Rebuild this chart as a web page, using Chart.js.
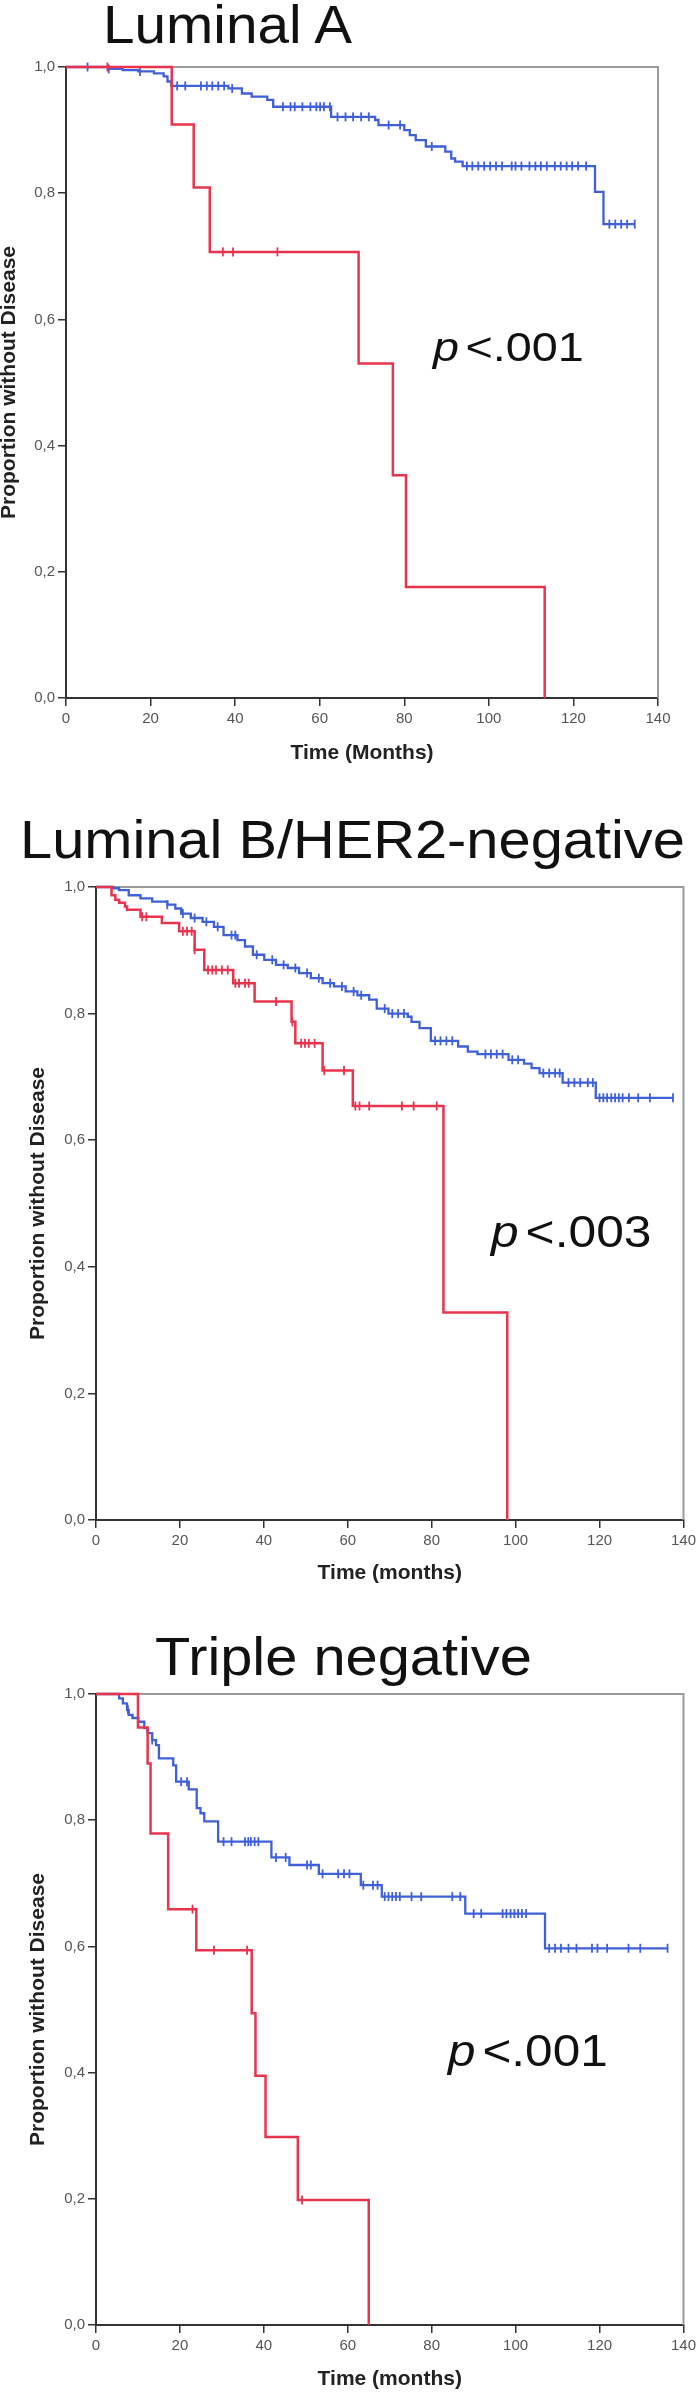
<!DOCTYPE html>
<html>
<head>
<meta charset="utf-8">
<script src="https://cdn.jsdelivr.net/npm/chart.js@4.4.1/dist/chart.umd.min.js"></script>
<style>
html,body{margin:0;padding:0;background:#fff;}
body{width:700px;height:2392px;position:relative;overflow:hidden;font-family:"Liberation Sans",Arial,sans-serif;}
canvas{position:absolute;left:0;}
.title{position:absolute;font-size:54px;line-height:1;white-space:nowrap;color:#111;transform-origin:0 0;z-index:2;}
.pval{position:absolute;line-height:1;white-space:nowrap;color:#111;transform-origin:0 0;z-index:2;}
.pval i{margin-right:0.14em;}
</style>
</head>
<body>
<canvas id="c1" width="700" height="780" style="top:0px"></canvas>
<canvas id="c2" width="700" height="800" style="top:800px"></canvas>
<canvas id="c3" width="700" height="792" style="top:1600px"></canvas>

<div class="title" style="left:103px;top:-3px;transform:scaleX(1.05)">Luminal A</div>
<div class="title" style="left:20px;top:812px;transform:scaleX(1.07)">Luminal B/HER2-negative</div>
<div class="title" style="left:155px;top:1629px;transform:scaleX(1.07)">Triple negative</div>

<div class="pval" style="left:433px;top:327px;font-size:41px;transform:scaleX(1.14)"><i>p</i>&lt;.001</div>
<div class="pval" style="left:491px;top:1210px;font-size:44px;transform:scaleX(1.13)"><i>p</i>&lt;.003</div>
<div class="pval" style="left:448px;top:2028px;font-size:45px;transform:scaleX(1.1)"><i>p</i>&lt;.001</div>

<script>
// ---------- tick labels ----------
const xTickValues = [0, 20, 40, 60, 80, 100, 120, 140];
const xTickLabels = ['0', '20', '40', '60', '80', '100', '120', '140'];
const yTickValues = [0, 0.2, 0.4, 0.6, 0.8, 1.0];
const yTickLabels = ['0,0', '0,2', '0,4', '0,6', '0,8', '1,0'];

// ---------- Luminal A ----------
const lumA_redTime = [0, 25.0, 30.2, 34.0, 69.2, 77.3, 80.4, 113.2];
const lumA_redSurv = [1, 0.909, 0.809, 0.707, 0.530, 0.353, 0.176, 0];
const lumA_redCensor = [9.8, 37.1, 39.5, 50.0];
const lumA_blueTime = [0, 10.1, 13.4, 17.1, 20.8, 23.1, 24.0, 24.9, 38.4, 41.6, 43.9, 47.6, 49.0, 62.7, 73.1, 73.9, 80.0, 81.3, 82.7, 85.1, 89.7, 91.1, 92.0, 93.8, 125.1, 127.1, 134.5];
const lumA_blueSurv = [1, 0.997, 0.995, 0.993, 0.990, 0.985, 0.977, 0.970, 0.966, 0.958, 0.953, 0.948, 0.937, 0.921, 0.916, 0.908, 0.900, 0.892, 0.884, 0.874, 0.866, 0.855, 0.850, 0.843, 0.802, 0.751, 0.751];
const lumA_blueCensor = [5.1, 10.1, 17.5, 26.3, 28.2, 31.9, 33.3, 34.6, 36.0, 37.4, 39.3, 51.3, 53.1, 54.1, 55.9, 57.8, 59.2, 60.1, 61.0, 62.4, 64.2, 66.1, 67.9, 69.8, 71.6, 76.3, 79.0, 86.5, 94.8, 96.1, 97.5, 98.9, 100.3, 101.7, 103.1, 105.4, 106.3, 107.7, 109.6, 111.0, 112.3, 113.7, 115.6, 117.0, 118.4, 119.7, 121.1, 123.0, 128.5, 129.9, 131.3, 132.7, 134.5];

// ---------- Luminal B / HER2-negative ----------
const lumB_redTime = [0, 3.7, 4.6, 5.5, 6.9, 7.4, 10.6, 15.7, 19.8, 23.5, 25.8, 32.7, 37.8, 46.6, 47.5, 54.0, 61.2, 82.8, 98.0];
const lumB_redSurv = [1, 0.987, 0.980, 0.975, 0.969, 0.964, 0.953, 0.943, 0.930, 0.901, 0.869, 0.848, 0.819, 0.787, 0.753, 0.710, 0.654, 0.328, 0];
const lumB_redCensor = [11.0, 12.0, 20.7, 21.7, 22.8, 23.5, 26.7, 27.7, 28.6, 30.0, 31.4, 33.2, 34.1, 35.5, 36.4, 42.9, 46.8, 48.9, 49.8, 50.7, 52.1, 54.4, 59.1, 61.8, 62.8, 65.1, 72.9, 75.7, 81.2];
const lumB_blueTime = [0, 4.1, 5.5, 7.8, 10.6, 13.4, 17.0, 18.9, 20.3, 22.6, 25.4, 28.1, 30.4, 33.7, 35.5, 37.4, 40.1, 42.9, 45.7, 48.4, 51.2, 54.0, 56.7, 59.5, 62.3, 65.1, 66.9, 69.7, 74.3, 75.2, 77.1, 79.8, 86.3, 88.6, 90.9, 98.3, 102.0, 103.8, 105.7, 111.2, 119.1, 137.5];
const lumB_blueSurv = [1, 0.998, 0.995, 0.987, 0.982, 0.977, 0.972, 0.966, 0.958, 0.951, 0.945, 0.937, 0.924, 0.916, 0.906, 0.893, 0.885, 0.877, 0.872, 0.864, 0.856, 0.848, 0.843, 0.835, 0.829, 0.822, 0.808, 0.800, 0.795, 0.787, 0.777, 0.757, 0.748, 0.740, 0.736, 0.727, 0.721, 0.714, 0.706, 0.691, 0.667, 0.667];
const lumB_blueCensor = [17.0, 20.7, 23.5, 26.3, 29.0, 32.3, 33.2, 38.3, 42.0, 44.7, 47.5, 50.3, 53.1, 55.8, 58.6, 61.4, 63.2, 68.8, 70.6, 72.0, 73.4, 80.8, 82.1, 83.5, 84.9, 92.8, 94.1, 95.5, 96.9, 99.2, 100.6, 106.6, 108.0, 109.4, 110.5, 112.6, 114.0, 115.4, 117.2, 118.4, 120.0, 120.9, 121.8, 122.8, 123.7, 124.6, 125.5, 127.0, 129.2, 132.0, 137.5];

// ---------- Triple negative ----------
const tn_redTime = [0, 10.0, 12.3, 13.0, 17.2, 23.9, 37.1, 38.0, 40.4, 48.1, 65.0];
const tn_redSurv = [1, 0.947, 0.890, 0.779, 0.659, 0.594, 0.494, 0.395, 0.298, 0.198, 0];
const tn_redCensor = [23.0, 28.1, 36.0, 49.1];
const tn_blueTime = [0, 5.5, 6.4, 7.4, 7.8, 8.7, 10.1, 11.5, 12.3, 13.4, 14.3, 15.0, 18.4, 19.1, 22.1, 24.0, 24.9, 25.8, 29.1, 41.8, 46.1, 53.1, 63.1, 68.1, 88.0, 107.0, 136.2];
const tn_blueSurv = [1, 0.993, 0.985, 0.975, 0.967, 0.962, 0.956, 0.946, 0.938, 0.927, 0.919, 0.898, 0.887, 0.861, 0.849, 0.819, 0.811, 0.798, 0.766, 0.741, 0.729, 0.715, 0.697, 0.679, 0.652, 0.597, 0.597];
const tn_blueCensor = [7.6, 13.4, 20.3, 21.7, 30.4, 32.3, 35.5, 36.3, 36.9, 37.8, 38.7, 42.9, 45.2, 50.3, 51.2, 54.0, 57.7, 59.1, 60.4, 63.7, 66.0, 67.1, 68.8, 69.7, 70.6, 71.5, 72.4, 75.2, 77.5, 84.9, 86.8, 90.0, 91.8, 96.9, 97.8, 98.8, 99.7, 100.6, 101.5, 102.5, 108.0, 109.4, 110.8, 112.6, 114.5, 118.2, 119.5, 121.8, 126.9, 129.7, 136.2];

// ---------- helpers ----------
const RED = '#E8344E';
const BLUE = '#3F60D8';
const FONT = "'Liberation Sans', Arial, sans-serif";

function toPoints(ts, ss) { return ts.map((t, i) => ({ x: t, y: ss[i] })); }
function stepAt(ts, ss, t) {
  let v = ss[0];
  for (let i = 0; i < ts.length; i++) { if (ts[i] <= t + 1e-9) v = ss[i]; }
  return v;
}
function censorPoints(cs, ts, ss) { return cs.map(t => ({ x: t, y: stepAt(ts, ss, t) })); }

const frameBorder = {
  id: 'frameBorder',
  beforeDatasetsDraw(chart) {
    const { ctx, chartArea: a } = chart;
    ctx.save();
    ctx.strokeStyle = '#9a9a9a';
    ctx.lineWidth = 2;
    ctx.beginPath();
    ctx.moveTo(a.left, a.top);
    ctx.lineTo(a.right, a.top);
    ctx.lineTo(a.right, a.bottom);
    ctx.stroke();
    ctx.restore();
  }
};

function lineDs(ts, ss, color, w) {
  return { data: toPoints(ts, ss), borderColor: color, borderWidth: w, stepped: true,
           pointRadius: 0, fill: false, clip: false, tension: 0 };
}
function censorDs(cs, ts, ss, color) {
  return { data: censorPoints(cs, ts, ss), showLine: false, pointStyle: 'line', pointRotation: 90,
           pointRadius: 4.5, pointBorderColor: color, pointBackgroundColor: color, pointBorderWidth: 1.8, clip: false };
}

function makeChart(id, series, L) {
  new Chart(document.getElementById(id), {
    type: 'line',
    data: {
      datasets: [
        lineDs(series.rT, series.rS, RED, 2.5),
        censorDs(series.rC, series.rT, series.rS, RED),
        lineDs(series.bT, series.bS, BLUE, 2.3),
        censorDs(series.bC, series.bT, series.bS, BLUE)
      ]
    },
    options: {
      responsive: false,
      animation: false,
      devicePixelRatio: 1,
      events: [],
      layout: { padding: { top: L.top, right: L.right, left: 0, bottom: 0 } },
      plugins: { legend: { display: false }, tooltip: { enabled: false }, title: { display: false } },
      scales: {
        x: {
          type: 'linear', min: 0, max: 140,
          afterBuildTicks: s => { s.ticks = xTickValues.map(v => ({ value: v })); },
          afterFit: s => { s.height = L.xh; },
          grid: { drawOnChartArea: false, drawTicks: true, tickLength: 8, color: '#333', lineWidth: 1.5 },
          border: { display: true, color: '#333', width: 2 },
          ticks: { padding: 4, color: '#555', autoSkip: false, maxRotation: 0,
                   font: { family: FONT, size: 15 }, callback: (v, i) => xTickLabels[i] },
          title: { display: true, text: L.xTitle, color: '#222',
                   font: { family: FONT, size: 21, weight: 'bold', lineHeight: 1 },
                   padding: { top: 0, bottom: L.xtPad } }
        },
        y: {
          type: 'linear', min: 0, max: 1,
          afterBuildTicks: s => { s.ticks = yTickValues.map(v => ({ value: v })); },
          afterFit: s => { s.width = L.yw; },
          grid: { drawOnChartArea: false, drawTicks: true, tickLength: 8, color: '#333', lineWidth: 1.5 },
          border: { display: true, color: '#333', width: 2 },
          ticks: { padding: 3, color: '#555', autoSkip: false,
                   font: { family: FONT, size: 15 }, callback: (v, i) => yTickLabels[i] },
          title: { display: true, text: 'Proportion without Disease', color: '#222',
                   font: { family: FONT, size: 21, weight: 'bold', lineHeight: 18 / 21 },
                   padding: { top: L.ytPad, bottom: 0 } }
        }
      }
    },
    plugins: [frameBorder]
  });
}

makeChart('c1',
  { rT: lumA_redTime, rS: lumA_redSurv, rC: lumA_redCensor, bT: lumA_blueTime, bS: lumA_blueSurv, bC: lumA_blueCensor },
  { top: 67, right: 42, yw: 66, xh: 82, xtPad: 16.5, ytPad: 0, xTitle: 'Time (Months)' });
makeChart('c2',
  { rT: lumB_redTime, rS: lumB_redSurv, rC: lumB_redCensor, bT: lumB_blueTime, bS: lumB_blueSurv, bC: lumB_blueCensor },
  { top: 87, right: 11, yw: 96, xh: 80, xtPad: 16.5, ytPad: 29, xTitle: 'Time (months)' });
makeChart('c3',
  { rT: tn_redTime, rS: tn_redSurv, rC: tn_redCensor, bT: tn_blueTime, bS: tn_blueSurv, bC: tn_blueCensor },
  { top: 94, right: 11, yw: 96, xh: 67, xtPad: 2.5, ytPad: 29, xTitle: 'Time (months)' });
</script>
</body>
</html>
